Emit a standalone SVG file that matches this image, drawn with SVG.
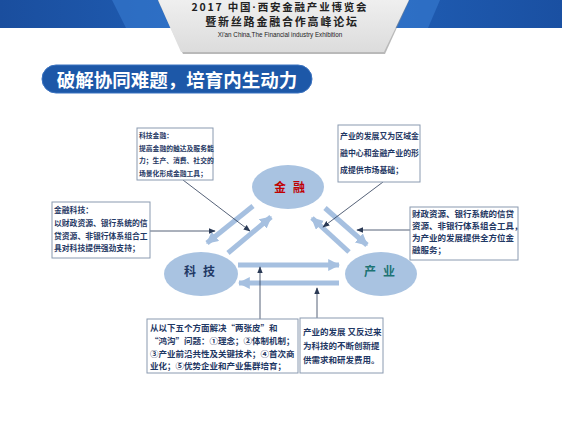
<svg xmlns="http://www.w3.org/2000/svg" width="562" height="422" viewBox="0 0 562 422">
<defs>
<linearGradient id="gray" x1="0" y1="0" x2="0" y2="1">
<stop offset="0" stop-color="#efefef"/><stop offset="1" stop-color="#dcdcdc"/>
</linearGradient>
<linearGradient id="band" x1="0" y1="0" x2="1" y2="0">
<stop offset="0" stop-color="#1a4e9e"/><stop offset="0.5" stop-color="#2264bd"/><stop offset="1" stop-color="#1a50a2"/>
</linearGradient>
<marker id="thick" viewBox="0 0 10 10" refX="9" refY="5" markerWidth="12" markerHeight="12" markerUnits="userSpaceOnUse" orient="auto">
<path d="M0,0 L10,5 L0,10 Z" fill="#a6c0e0"/>
</marker>
<marker id="thin" viewBox="0 0 10 10" refX="9" refY="5" markerWidth="7" markerHeight="7" markerUnits="userSpaceOnUse" orient="auto">
<path d="M0,1 L10,5 L0,9 Z" fill="#2b3a55"/>
</marker>
</defs>
<style>
.box{fill:#ffffff;stroke:#8a9ab0;stroke-width:1}
.bt{font-family:"Noto Sans CJK SC","Noto Sans",sans-serif;font-weight:bold;fill:#1f3864}
.ell{fill:#a9c3e1}
.et{font-family:"Noto Sans CJK SC",sans-serif;font-weight:bold;font-size:12px;text-anchor:middle;letter-spacing:7px}
.tk{stroke:#a6c0e0;stroke-width:5;fill:none;marker-end:url(#thick)}
.tn{stroke:#2b3a55;stroke-width:0.8;fill:none;marker-end:url(#thin)}
.hd{font-family:"Noto Sans CJK SC",sans-serif;font-weight:bold;fill:#222;text-anchor:middle}
</style>
<rect width="562" height="422" fill="#ffffff"/>
<g id="header">
<rect x="0" y="0" width="562" height="28" fill="url(#band)"/>
<polygon points="112,0 160,0 172,28 126,28" fill="#3a7fd6" opacity="0.55"/>
<polygon points="402,0 440,0 428,28 392,28" fill="#3a7fd6" opacity="0.55"/>
<polygon points="158,1 409,1 385,54 183,54" fill="#8a8a8a" opacity="0.6"/>
<polygon points="158,0 409,0 384,52 181,52" fill="url(#gray)"/>
<text class="hd" x="280" y="11" font-size="10.5" letter-spacing="1.8">2017 中国<tspan font-family="Liberation Sans, sans-serif">·</tspan>西安金融产业博览会</text>
<text class="hd" x="282" y="26" font-size="11" letter-spacing="1.8">暨新丝路金融合作高峰论坛</text>
<text x="280" y="37" font-family="Liberation Sans, sans-serif" font-size="6.3" fill="#222" text-anchor="middle">Xi'an China,The Financial industry Exhibition</text>
</g>
<g id="title">
<rect x="42" y="65" width="270" height="28" rx="14" fill="#1d58a8" stroke="#3a72c0" stroke-width="1"/>
<text x="177" y="87" font-family="Noto Sans CJK SC,sans-serif" font-weight="bold" font-size="18.5" fill="#ffffff" text-anchor="middle">破解协同难题，培育内生动力</text>
</g>
<g id="connectors">
<line class="tk" x1="253" y1="206" x2="207" y2="243"/>
<line class="tk" x1="228" y1="253" x2="271" y2="217"/>
<line class="tk" x1="349" y1="252" x2="312" y2="218"/>
<line class="tk" x1="325" y1="208" x2="367" y2="245"/>
<line class="tk" x1="238" y1="265" x2="339" y2="265"/>
<line class="tk" x1="339" y1="283" x2="239" y2="283"/>
<line class="tn" x1="183" y1="180" x2="250" y2="231"/>
<line class="tn" x1="383" y1="182" x2="323" y2="227"/>
<line class="tn" x1="150" y1="231" x2="215" y2="231"/>
<line class="tn" x1="410" y1="230" x2="357" y2="230"/>
<line class="tn" x1="260" y1="319" x2="260" y2="267"/>
<line class="tn" x1="317" y1="318" x2="317" y2="288"/>
</g>
<g id="jinrong">
<ellipse class="ell" cx="288" cy="187" rx="36" ry="22"/>
<text class="et" x="293" y="192" fill="#c00000">金融</text>
</g>
<g id="keji">
<ellipse class="ell" cx="201" cy="274" rx="37" ry="22"/>
<text class="et" x="203" y="276" fill="#1f3864">科技</text>
</g>
<g id="chanye">
<ellipse class="ell" cx="381" cy="274" rx="36" ry="22"/>
<text class="et" x="383" y="276" fill="#1d7373">产业</text>
</g>
<g id="box1">
<rect class="box" x="137" y="128" width="76" height="52"/>
<text class="bt" font-size="6.8"><tspan x="139" y="138">科技金融：</tspan><tspan x="139" y="150.5">提高金融的触达及服务能</tspan><tspan x="139" y="163">力；生产、消费、社交的</tspan><tspan x="139" y="175.5">场景化形成金融工具；</tspan></text>
</g>
<g id="box2">
<rect class="box" x="338" y="125" width="82" height="57"/>
<text class="bt" font-size="7.9"><tspan x="340" y="139">产业的发展又为区域金</tspan><tspan x="340" y="156">融中心和金融产业的形</tspan><tspan x="340" y="173">成提供市场基础；</tspan></text>
</g>
<g id="box3">
<rect class="box" x="52" y="202" width="98" height="56"/>
<text class="bt" font-size="7.8"><tspan x="54" y="213">金融科技：</tspan><tspan x="54" y="226">以财政资源、银行系统的信</tspan><tspan x="54" y="239">贷资源、非银行体系组合工</tspan><tspan x="54" y="251">具对科技提供强劲支持；</tspan></text>
</g>
<g id="box4">
<rect class="box" x="410" y="207" width="108" height="53"/>
<text class="bt" font-size="8.5"><tspan x="412" y="217">财政资源、银行系统的信贷</tspan><tspan x="412" y="229">资源、非银行体系组合工具，</tspan><tspan x="412" y="241">为产业的发展提供全方位金</tspan><tspan x="412" y="253">融服务；</tspan></text>
</g>
<g id="box5">
<rect class="box" x="147" y="319" width="151" height="54"/>
<text class="bt" font-size="8.5"><tspan x="150" y="331">从以下五个方面解决“两张皮”和</tspan><tspan x="150" y="344">“鸿沟”问题：①理念；②体制机制；</tspan><tspan x="150" y="357">③产业前沿共性及关键技术；④首次商</tspan><tspan x="150" y="369">业化；⑤优势企业和产业集群培育；</tspan></text>
</g>
<g id="box6">
<rect class="box" x="300" y="318" width="83" height="55"/>
<text class="bt" font-size="8.5"><tspan x="303" y="335">产业的发展 又反过来</tspan><tspan x="303" y="349">为科技的不断创新提</tspan><tspan x="303" y="363">供需求和研发费用。</tspan></text>
</g>
</svg>
